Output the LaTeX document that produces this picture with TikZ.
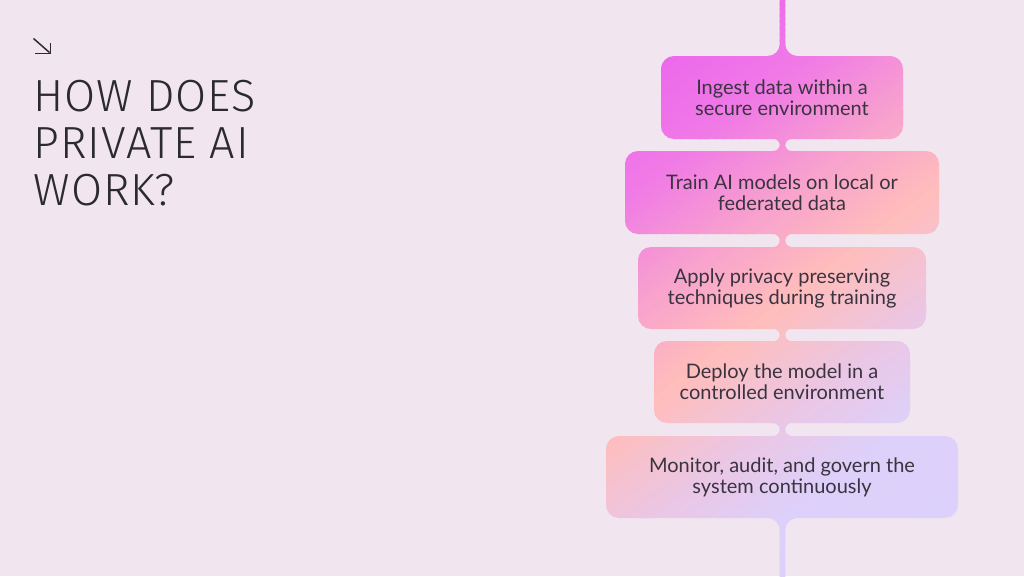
\documentclass[tikz,border=0pt]{standalone}
\usepackage{fontspec}
\setmainfont{Lato}
\newfontfamily\titlefont{Fira Sans Light}[LetterSpace=2]
\definecolor{bg}{HTML}{F1E6EF}
\definecolor{ink}{HTML}{2B2A2E}
\definecolor{txtc}{HTML}{3A3340}
\definecolor{g0}{HTML}{EC60EF}
\definecolor{g1}{HTML}{F07AE6}
\definecolor{g2}{HTML}{F8A4CC}
\definecolor{g3}{HTML}{FFBDBB}
\definecolor{g4}{HTML}{EBC6E4}
\definecolor{g5}{HTML}{DDD0FA}
\definecolor{g6}{HTML}{DCD2FC}
\def\cx{782.5}
\def\w{2.8}
\newcommand\neck[2]{%
 [sharp corners] ({\cx-\w-(#2-#1)/2},{#1-1}) -- ({\cx-\w-(#2-#1)/2},#1)
 arc[start angle=270,end angle=450,radius={(#2-#1)/2}]
 -- ({\cx-\w-(#2-#1)/2},{#2+1}) -- ({\cx+\w+(#2-#1)/2},{#2+1}) -- ({\cx+\w+(#2-#1)/2},#2)
 arc[start angle=90,end angle=270,radius={(#2-#1)/2}]
 -- ({\cx+\w+(#2-#1)/2},{#1-1}) -- cycle}
\tikzset{
  txt/.style={font=\fontsize{20}{21}\selectfont, align=center, text=txtc, inner sep=0pt},
  ttl/.style={font=\titlefont\fontsize{45}{46}\selectfont, text=ink, inner sep=0pt, anchor=base west},
  icon/.style={draw=ink, line width=1.5pt}
}
\begin{document}
\begin{tikzpicture}[x=1pt,y=-1pt]
\fill[bg] (0,0) rectangle (1024,576);
\useasboundingbox (0,0) rectangle (1024,576);
\begin{scope}
\clip[rounded corners=13]
  (661,56) rectangle (903,139)
  (625,151) rectangle (939,234)
  (638,247) rectangle (926,329)
  (654,341) rectangle (910,423)
  (606,436) rectangle (958,518)
  \neck{139}{151} \neck{234}{247} \neck{329}{341} \neck{423}{436}
  % top stem
  [sharp corners] ({\cx-\w},-2) -- ({\cx-\w},44) arc[start angle=0,end angle=90,radius=12]
  -- ({\cx-\w-12},57) -- ({\cx+\w+12},57) -- ({\cx+\w+12},56)
  arc[start angle=90,end angle=180,radius=12] -- ({\cx+\w},-2) -- cycle
  % bottom stem
  ({\cx-\w-12},517) -- ({\cx-\w-12},518) arc[start angle=270,end angle=360,radius=12]
  -- ({\cx-\w},578) -- ({\cx+\w},578) -- ({\cx+\w},530)
  arc[start angle=180,end angle=270,radius=12] -- ({\cx+\w+12},517) -- cycle;
\foreach \ua/\ub/\ca/\cb in {400/530/g0/g1,530/630/g1/g2,630/710/g2/g3,710/800/g3/g4,800/880/g4/g5,880/1010/g5/g6}{
  \pgfmathtruncatemacro\n{(\ub-\ua)/5}
  \foreach \i in {0,...,\n}{
    \pgfmathsetmacro\u{\ua+5*\i}
    \pgfmathtruncatemacro\p{100*\i/\n}
    \fill[\cb!\p!\ca] ({0.6*\u-560},{0.8*\u+420}) -- ({0.6*(\u+6)-560},{0.8*(\u+6)+420})
      -- ({0.6*(\u+6)+560},{0.8*(\u+6)-420}) -- ({0.6*\u+560},{0.8*\u-420}) -- cycle;
  }
}
\end{scope}
\node[txt] (t1) at (782,97.5) {Ingest data within a\\secure environment};
\node[txt] (t2) at (782,193) {Train AI models on local or\\federated data};
\node[txt] (t3) at (782,288) {Apply privacy preserving\\techniques during training};
\node[txt] (t4) at (782,382) {Deploy the model in a\\controlled environment};
\node[txt] (t5) at (782,477) {Monitor, audit, and govern the\\system continuously};
\node[ttl] (h1) at (33.5,111.7) {HOW DOES};
\node[ttl] (h2) at (33.5,158.3) {PRIVATE AI};
\node[ttl] (h3) at (33.5,205) {WORK?};
\draw[icon] (33.5,38.5) -- (49.5,52.5);
\draw[icon] (35,53.3) -- (50.3,53.3) -- (50.3,43.3);
\end{tikzpicture}
\end{document}
